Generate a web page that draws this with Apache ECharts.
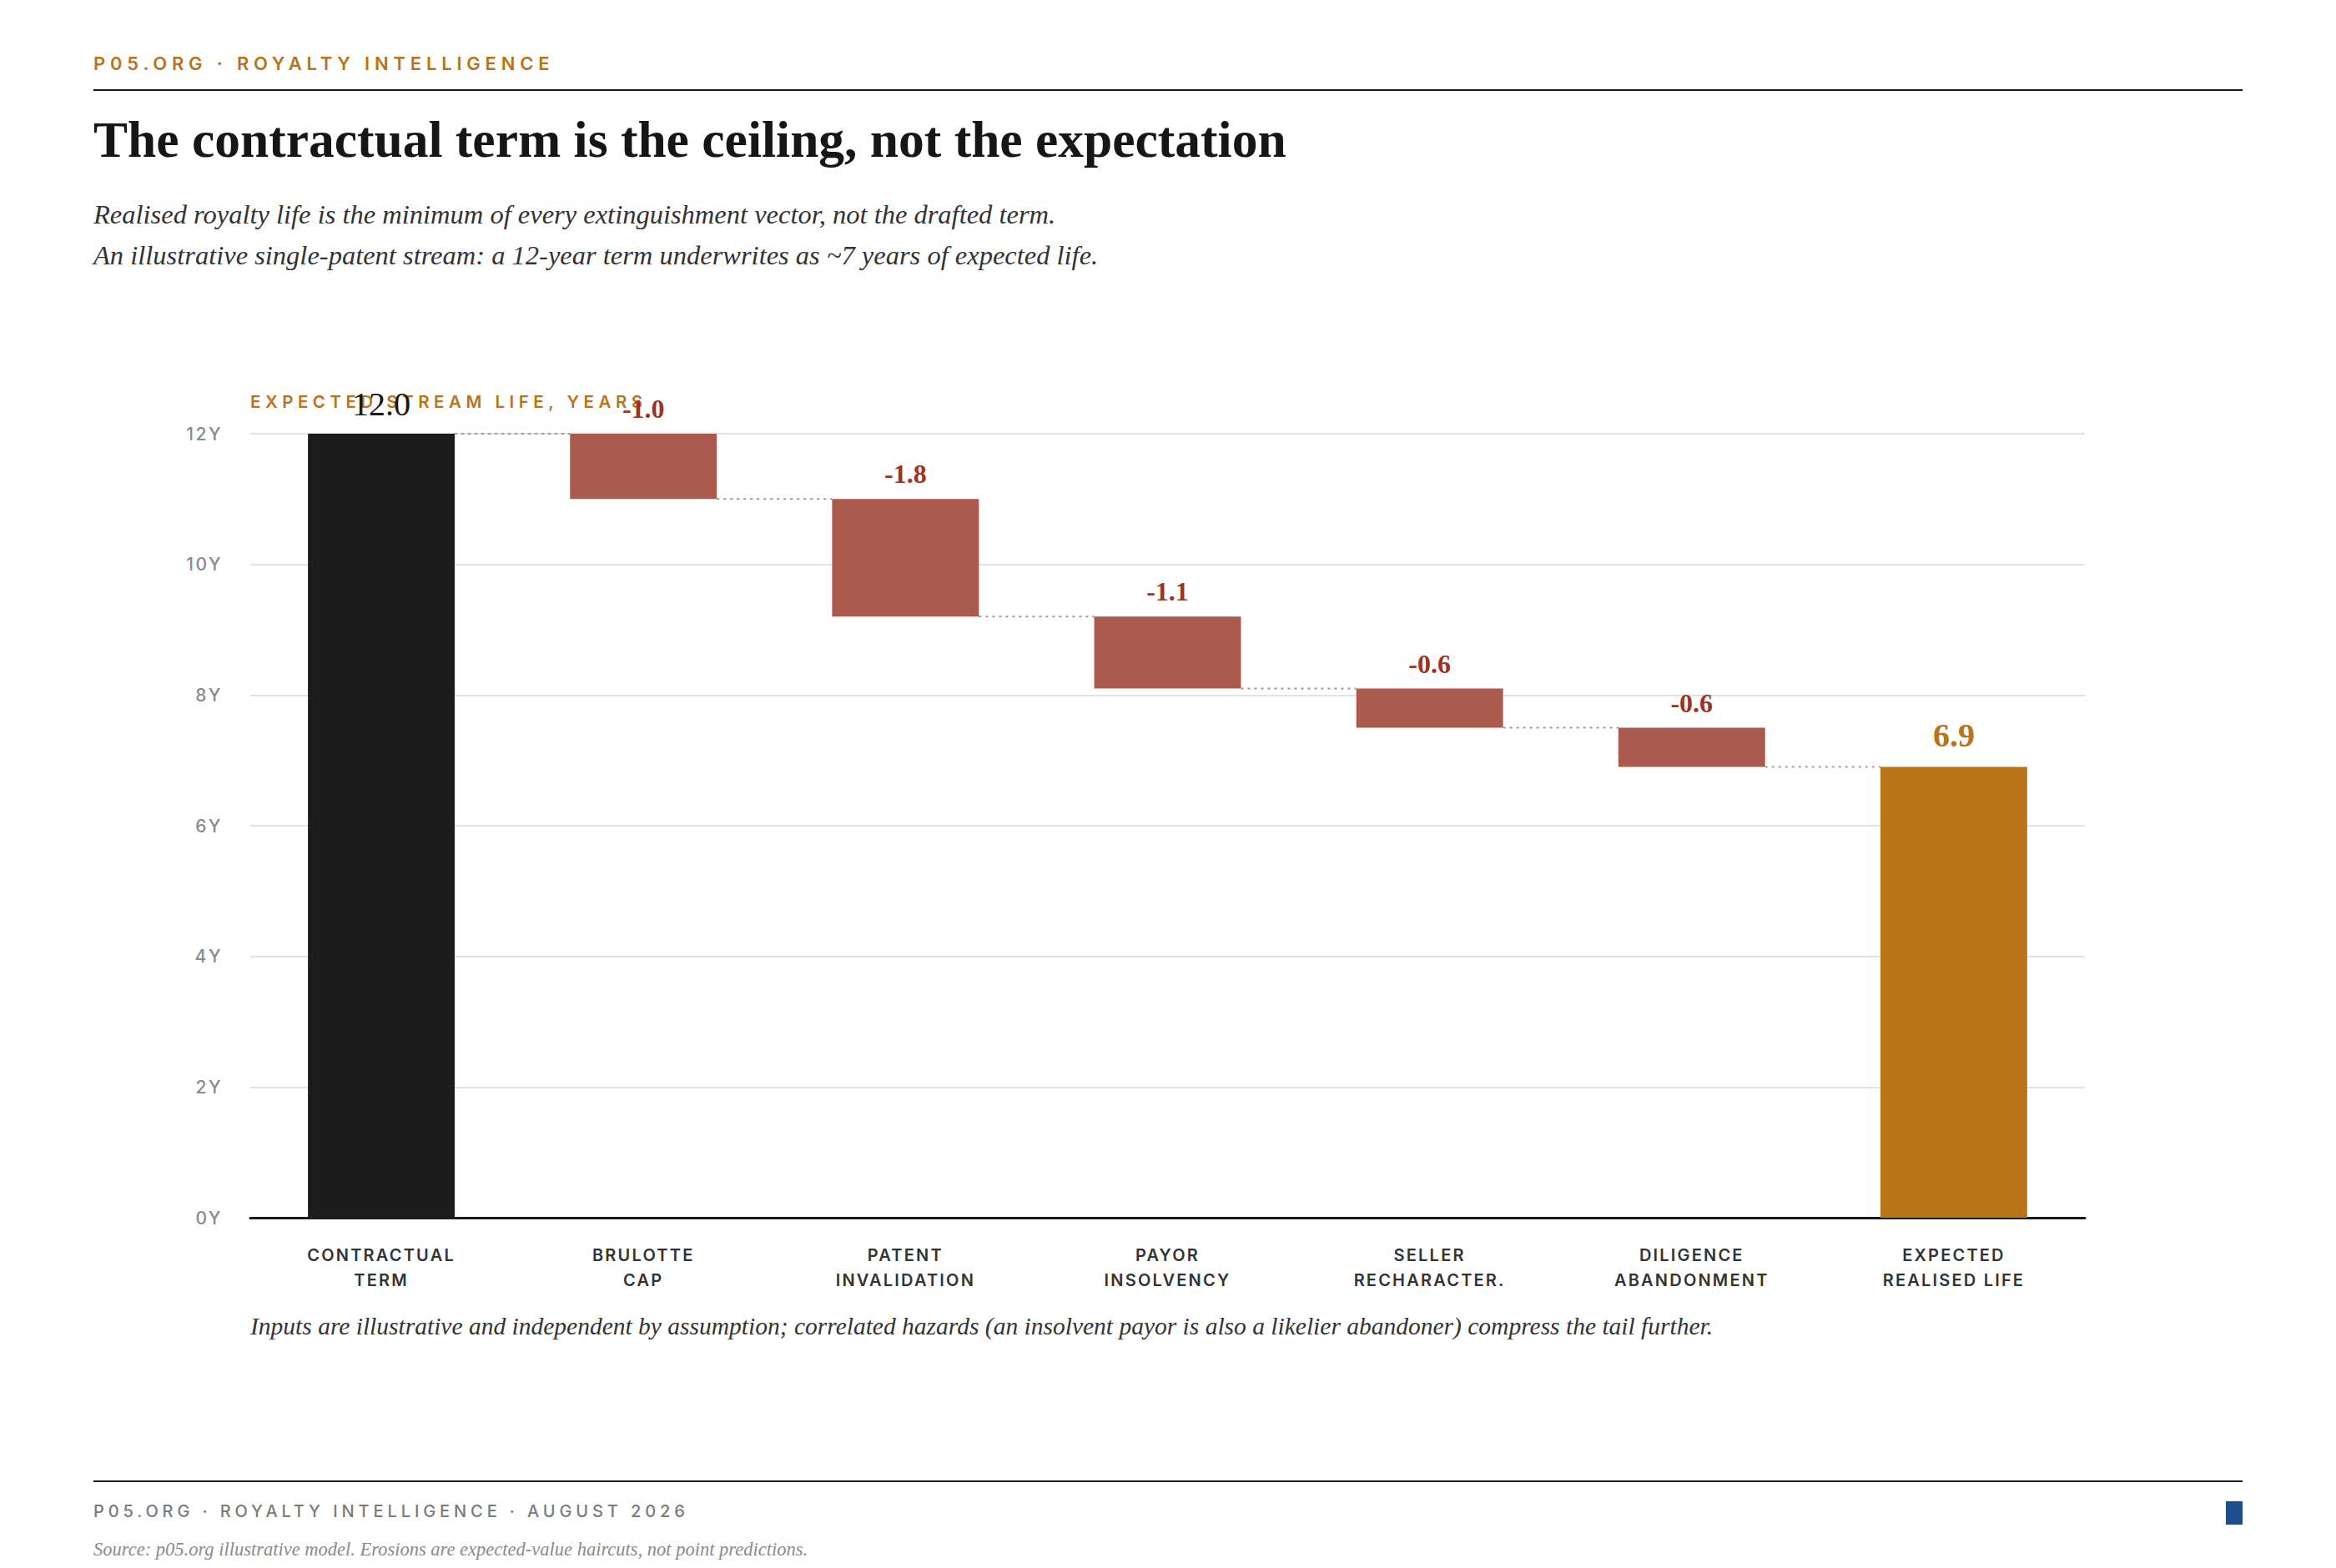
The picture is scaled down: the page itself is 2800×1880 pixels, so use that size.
<!DOCTYPE html>
<html>
<head>
<meta charset="utf-8">
<script src="https://cdn.jsdelivr.net/npm/echarts@6/dist/echarts.min.js"></script>
<style>
  html, body { margin: 0; padding: 0; background: #fff; }
  #page { position: relative; width: 2800px; height: 1880px; overflow: hidden; }
  #chart { position: absolute; left: 0; top: 0; width: 2800px; height: 1880px; }
  .t { position: absolute; white-space: nowrap; }
  .kicker { left: 112px; top: 63px; line-height: 30px; font: 600 22px Inter, sans-serif; letter-spacing: 5.8px; color: #B8741A; }
  .rule { position: absolute; left: 112px; width: 2576px; height: 2px; background: #1a1a1a; }
  .title { left: 112px; top: 132px; line-height: 76px; font: bold 61.5px "Liberation Serif", serif; color: #161616; }
  .sub { left: 112px; font: italic 32.5px "Liberation Serif", serif; color: #333; line-height: 40px; }
  .note { left: 300px; top: 1574px; line-height: 36px; font: italic 29.5px "Liberation Serif", serif; color: #333; }
  .foot { left: 112px; top: 1800px; line-height: 26px; font: 500 20px Inter, sans-serif; letter-spacing: 4.9px; color: #7a7a7a; }
  .src { left: 112px; top: 1845px; line-height: 26px; font: italic 22.5px "Liberation Serif", serif; color: #8a8a8a; }
  .mark { position: absolute; left: 2668px; top: 1800px; width: 20px; height: 28px; background: #1F4E8C; }
</style>
</head>
<body>
<div id="page">
  <div id="chart"></div>
  <div class="t kicker">P05.ORG · ROYALTY INTELLIGENCE</div>
  <div class="rule" style="top:107px"></div>
  <div class="t title">The contractual term is the ceiling, not the expectation</div>
  <div class="t sub" style="top:237px">Realised royalty life is the minimum of every extinguishment vector, not the drafted term.</div>
  <div class="t sub" style="top:286px">An illustrative single-patent stream: a 12-year term underwrites as ~7 years of expected life.</div>
  <div class="t note">Inputs are illustrative and independent by assumption; correlated hazards (an insolvent payor is also a likelier abandoner) compress the tail further.</div>
  <div class="rule" style="top:1775px"></div>
  <div class="t foot">P05.ORG · ROYALTY INTELLIGENCE · AUGUST 2026</div>
  <div class="mark"></div>
  <div class="t src">Source: p05.org illustrative model. Erosions are expected-value haircuts, not point predictions.</div>
</div>
<script>
// categories and step values (years)
var categories = ['CONTRACTUAL\nTERM', 'BRULOTTE\nCAP', 'PATENT\nINVALIDATION', 'PAYOR\nINSOLVENCY',
                  'SELLER\nRECHARACTER.', 'DILIGENCE\nABANDONMENT', 'EXPECTED\nREALISED LIFE'];
var steps = [12.0, -1.0, -1.8, -1.1, -0.6, -0.6, 6.9];
var kinds = ['total', 'erosion', 'erosion', 'erosion', 'erosion', 'erosion', 'result'];
var axisName = 'EXPECTED STREAM LIFE, YEARS';

var colors = { total: '#1c1c1c', erosion: '#ab5a4e', result: '#ba7518' };
var labelColors = { total: '#161616', erosion: '#9b3326', result: '#b8741a' };
var labelSizes = { total: 40, erosion: 32, result: 40 };

// build waterfall pieces from the steps
var bases = [], heights = [], levels = [];
var running = 0;
for (var i = 0; i < steps.length; i++) {
    if (kinds[i] === 'erosion') {
        running = +(running + steps[i]).toFixed(2);
        bases.push(running);
        heights.push(-steps[i]);
    } else {
        running = steps[i];
        bases.push(0);
        heights.push(steps[i]);
    }
    levels.push(running);
}
var connectors = [];
for (var j = 0; j < steps.length - 1; j++) connectors.push([j, levels[j]]);

var chart = echarts.init(document.getElementById('chart'), null, { renderer: 'svg' });

var stepData = heights.map(function (h, k) {
    var kind = kinds[k];
    var lbl = {
        color: labelColors[kind],
        fontSize: labelSizes[kind],
        lineHeight: labelSizes[kind],
        fontWeight: kind === 'total' ? 'normal' : 'bold',
        distance: kind === 'erosion' ? 14 : (kind === 'total' ? 16 : 18)
    };
    return { value: h, itemStyle: { color: colors[kind] }, label: lbl };
});

var option = {
    animation: false,
    grid: { left: 300, right: 301, top: 520, bottom: 420 },
    xAxis: {
        type: 'category',
        data: categories,
        axisLine: { lineStyle: { color: '#1a1a1a', width: 3 } },
        axisTick: { show: false },
        axisLabel: {
            color: '#333', fontFamily: 'Inter', fontWeight: 600, fontSize: 20,
            lineHeight: 30, margin: 30, interval: 0
        }
    },
    yAxis: {
        type: 'value',
        min: 0, max: 12, interval: 2,
        name: axisName,
        nameLocation: 'end',
        nameGap: 28,
        nameTextStyle: { color: '#b8741a', fontFamily: 'Inter', fontWeight: 600, fontSize: 20.5, align: 'left' },
        axisLine: { show: false },
        axisTick: { show: false },
        axisLabel: { formatter: '{value}Y', color: '#8a8a8a', fontFamily: 'Inter', fontWeight: 500, fontSize: 21, margin: 33 },
        splitLine: { lineStyle: { color: '#e6e1da', width: 2 } }
    },
    series: [
        {
            name: 'base', type: 'bar', stack: 'wf', silent: true,
            barWidth: '56%',
            itemStyle: { color: 'rgba(0,0,0,0)' },
            data: bases
        },
        {
            name: 'step', type: 'bar', stack: 'wf',
            barWidth: '56%',
            label: {
                show: true, position: 'top',
                fontFamily: 'Liberation Serif',
                formatter: function (p) { return steps[p.dataIndex].toFixed(1); }
            },
            data: stepData
        },
        {
            name: 'connector', type: 'custom', silent: true, z: 1,
            renderItem: function (params, api) {
                var p = api.coord([api.value(0), api.value(1)]);
                var band = api.size([1, 0])[0];
                return {
                    type: 'line',
                    shape: { x1: p[0] + band * 0.28, y1: p[1], x2: p[0] + band * 0.72, y2: p[1] },
                    style: { stroke: '#9a9a9a', lineWidth: 2, lineDash: [3, 5] }
                };
            },
            data: connectors
        }
    ]
};
chart.setOption(option);

// letter-spacing for the small caps sans labels (svg text takes css)
function spaceTexts() {
    var catLines = {};
    categories.forEach(function (c) { c.split('\n').forEach(function (l) { catLines[l] = 1; }); });
    chart.getDom().querySelectorAll('text').forEach(function (t) {
        var s = t.textContent;
        if (catLines[s]) t.style.letterSpacing = '2.2px';
        else if (/^\d+Y$/.test(s)) t.style.letterSpacing = '2.5px';
        else if (s === axisName) t.style.letterSpacing = '5.5px';
    });
}
chart.on('finished', spaceTexts);
spaceTexts();
</script>
</body>
</html>
